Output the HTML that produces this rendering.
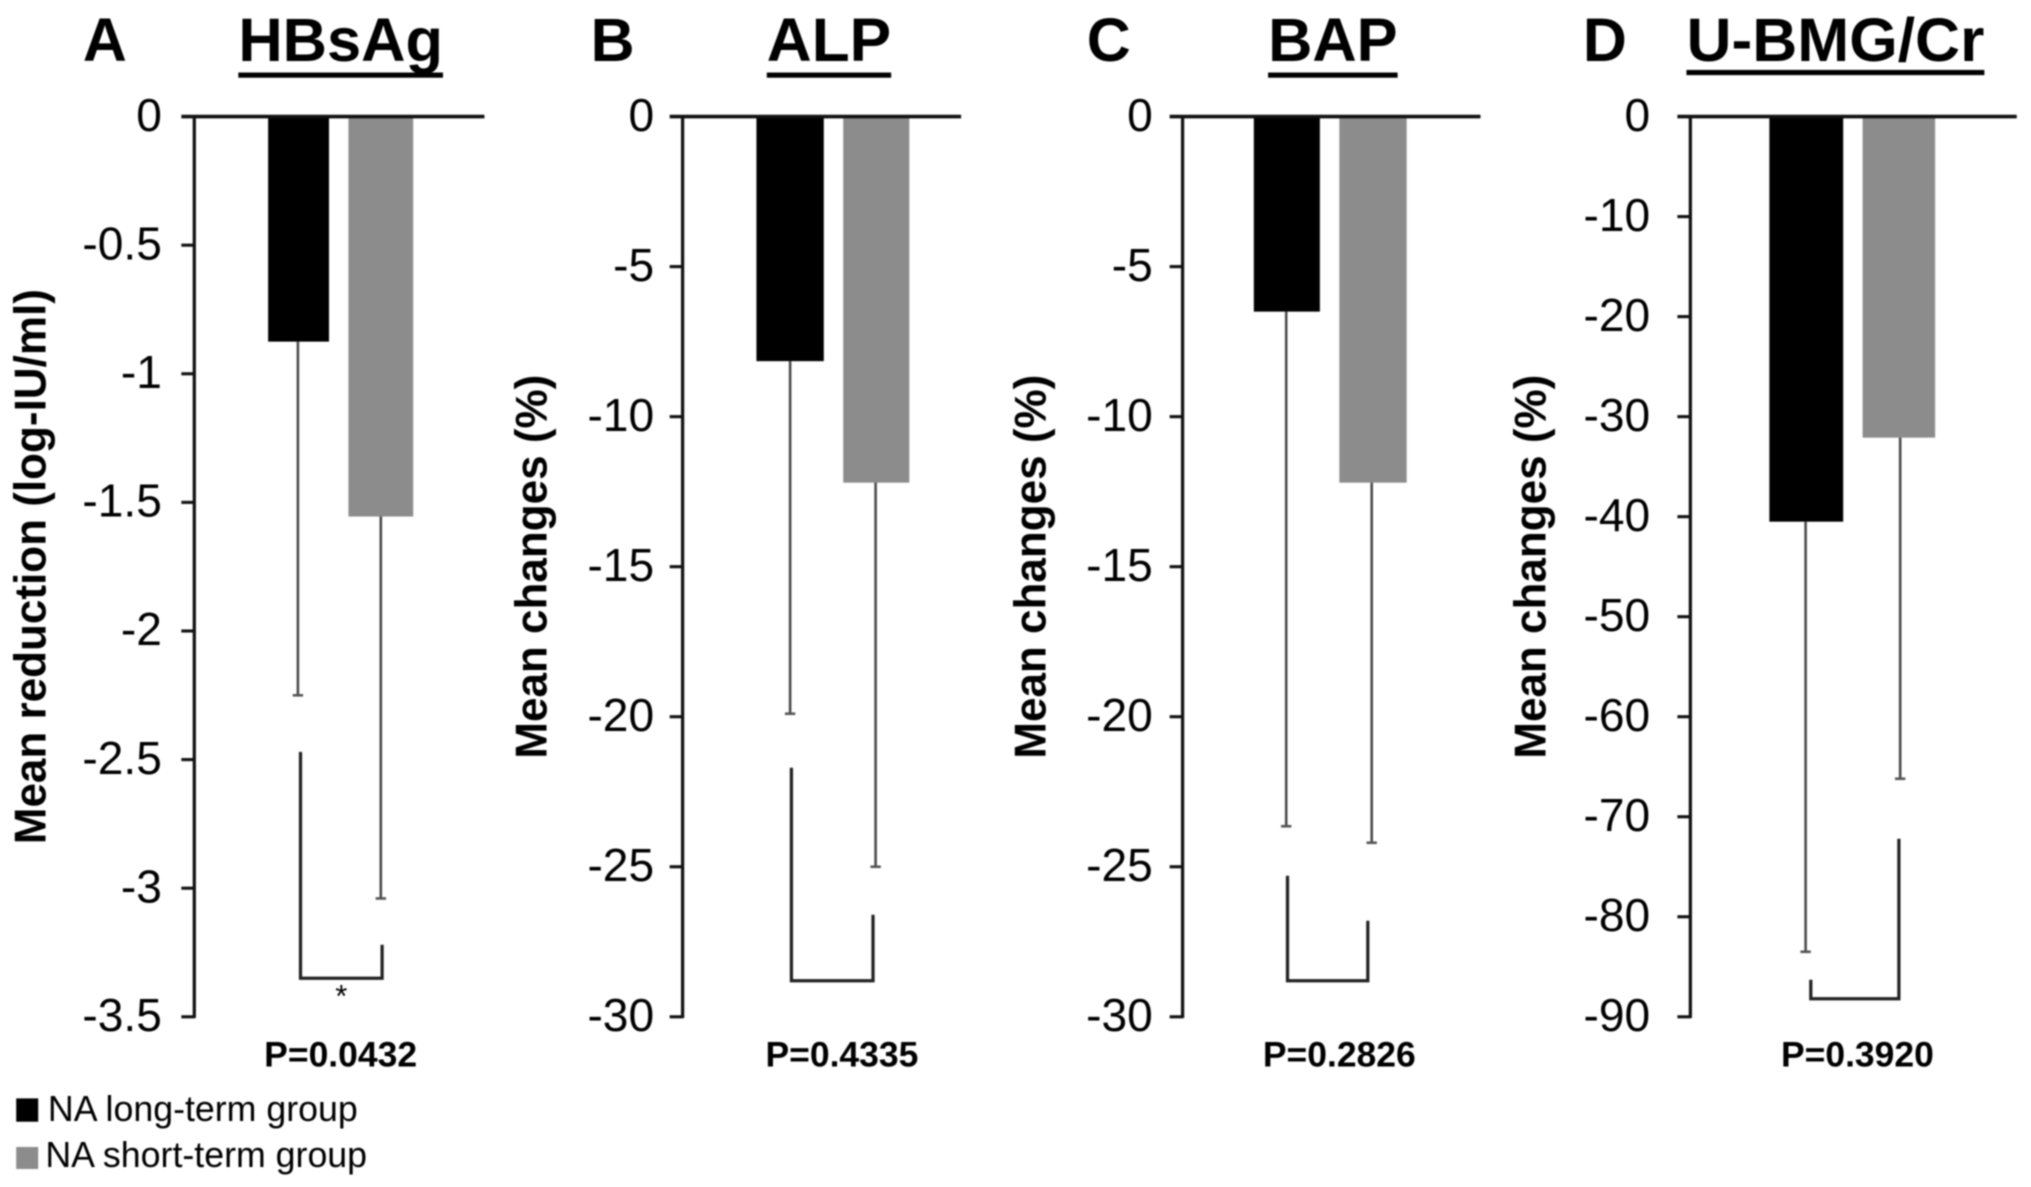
<!DOCTYPE html>
<html>
<head>
<meta charset="utf-8">
<style>
html,body{margin:0;padding:0;background:#fff;width:2031px;height:1187px;overflow:hidden}
svg{display:block;filter:blur(0.8px)}
text{font-family:"Liberation Sans",Arial,sans-serif;fill:#000}
</style>
</head>
<body>
<svg id="chart" xmlns="http://www.w3.org/2000/svg" width="2031" height="1187" viewBox="0 0 1568 916.4" preserveAspectRatio="none"></svg>
<script>
// ---- Data ----
const panelLetters = ['A', 'B', 'C', 'D'];
const panelTitles = ['HBsAg', 'ALP', 'BAP', 'U-BMG/Cr'];
const axisTitles = ['Mean reduction (log-IU/ml)', 'Mean changes (%)', 'Mean changes (%)', 'Mean changes (%)'];
const seriesNames = ['NA long-term group', 'NA short-term group'];
const pValues = ['P=0.0432', 'P=0.4335', 'P=0.2826', 'P=0.3920'];

const ticksA = [0, -0.5, -1, -1.5, -2, -2.5, -3, -3.5];
const ticksB = [0, -5, -10, -15, -20, -25, -30];
const ticksC = [0, -5, -10, -15, -20, -25, -30];
const ticksD = [0, -10, -20, -30, -40, -50, -60, -70, -80, -90];

const longTermMeans = [-0.875, -8.15, -6.5, -40.5];
const shortTermMeans = [-1.555, -12.2, -12.2, -32.1];
const longTermErrorEnds = [-2.25, -19.9, -23.65, -83.5];
const shortTermErrorEnds = [-3.04, -25, -24.2, -66.2];

// significance bracket: level of the crossbar and where each arm starts, in axis units
const bracketLevels = [-3.35, -28.8, -28.8, -88.2];
const bracketLeftStarts = [-2.47, -21.7, -25.3, -86.3];
const bracketRightStarts = [-3.22, -26.6, -26.8, -72.2];
const significanceMarks = ['*', '', '', ''];

// ---- Layout ----
const plotTop = 90, plotBottom = 785;
const layout = [
  {axis:150, right:374, black:[207,254], grey:[269,319], errBlack:230, errGrey:294, brL:232, brR:295, pCx:263, titleCx:263, ulL:184, ulR:342, ulY:58, letterX:64, yLabelX:35, labelEnd:125},
  {axis:527, right:742, black:[584,636], grey:[651,702], errBlack:610, errGrey:676, brL:611, brR:674, pCx:650, titleCx:640, ulL:592, ulR:688, ulY:58, letterX:456, yLabelX:422, labelEnd:505},
  {axis:913, right:1143, black:[968,1019], grey:[1034,1086], errBlack:993, errGrey:1059, brL:994, brR:1056, pCx:1034, titleCx:1029, ulL:979, ulR:1079, ulY:58, letterX:839, yLabelX:807, labelEnd:890},
  {axis:1305, right:1557, black:[1366,1423], grey:[1438,1494], errBlack:1394, errGrey:1467, brL:1398, brR:1466, pCx:1434, titleCx:1417, ulL:1302, ulR:1532, ulY:56, letterX:1222, yLabelX:1193, labelEnd:1274}
];
const tickSets = [ticksA, ticksB, ticksC, ticksD];

const svg = document.getElementById('chart');
const NS = 'http://www.w3.org/2000/svg';

function shape(tag, geom, parent) {
  const el = document.createElementNS(NS, tag);
  for (const k in geom) el.setAttribute(k, geom[k]);
  (parent || svg).appendChild(el);
  return el;
}
function yScale(ticks) {
  const min = ticks[ticks.length - 1], max = ticks[0];
  return v => plotTop + (max - v) / (max - min) * (plotBottom - plotTop);
}
function lineEl(x1, y1, x2, y2, stroke, width, parent) {
  return shape('line', {x1:x1, y1:y1, x2:x2, y2:y2, stroke:stroke, 'stroke-width':width}, parent);
}

panelTitles.forEach((title, i) => {
  const L = layout[i];
  const ticks = tickSets[i];
  const y = yScale(ticks);

  const g = shape('g', {});
  
  

  const letter = shape('text', {x:L.letterX, y:47, 'font-size':47, 'font-weight':'bold'}, g);
  letter.textContent = panelLetters[i];
  
  

  const titleEl = shape('text', {x:L.titleCx, y:47, 'font-size':47, 'font-weight':'bold', 'text-anchor':'middle', textLength:L.ulR - L.ulL, lengthAdjust:'spacingAndGlyphs'}, g);
  titleEl.textContent = title;
  
  

  const underline = shape('rect', {x:L.ulL, y:L.ulY - 2, width:L.ulR - L.ulL, height:4, fill:'#000'}, g);
  
  

  const yTitle = shape('text', {x:L.yLabelX, y:437.5, 'font-size':34, 'font-weight':'bold', 'text-anchor':'middle', transform:'rotate(-90 ' + L.yLabelX + ' 437.5)'}, g);
  yTitle.textContent = axisTitles[i];
  
  

  // bars
  const barBlack = shape('rect', {x:L.black[0], y:y(0), width:L.black[1] - L.black[0], height:y(longTermMeans[i]) - y(0), fill:'#000'}, g);
  
  

  const barGrey = shape('rect', {x:L.grey[0], y:y(0), width:L.grey[1] - L.grey[0], height:y(shortTermMeans[i]) - y(0), fill:'#8c8c8c'}, g);
  
  

  // error bars
  const errBlack = lineEl(L.errBlack, y(longTermMeans[i]), L.errBlack, y(longTermErrorEnds[i]), '#4a4a4a', 2, g);
  
  

  const capBlack = lineEl(L.errBlack - 4, y(longTermErrorEnds[i]), L.errBlack + 4, y(longTermErrorEnds[i]), '#555', 2, g);
  
  

  const errGrey = lineEl(L.errGrey, y(shortTermMeans[i]), L.errGrey, y(shortTermErrorEnds[i]), '#4a4a4a', 2, g);
  
  

  const capGrey = lineEl(L.errGrey - 4, y(shortTermErrorEnds[i]), L.errGrey + 4, y(shortTermErrorEnds[i]), '#555', 2, g);
  
  

  // axes
  const yAxis = lineEl(L.axis, y(0), L.axis, plotBottom + 1, '#111', 2.5, g);
  
  

  const xAxis = lineEl(L.axis - 10, y(0), L.right, y(0), '#111', 2.8, g);
  
  

  ticks.forEach(t => {
    if (t !== 0) {
      const tm = lineEl(L.axis - 10, y(t), L.axis, y(t), '#111', 2.4, g);
      
      
    }
    const tl = shape('text', {x:L.labelEnd, y:y(t) + 11, 'font-size':35.6, 'text-anchor':'end'}, g);
    tl.textContent = String(t);
    
    
  });

  // significance bracket
  const level = y(bracketLevels[i]);
  const pts = L.brL + ',' + y(bracketLeftStarts[i]) + ' ' + L.brL + ',' + level + ' ' + L.brR + ',' + level + ' ' + L.brR + ',' + y(bracketRightStarts[i]);
  const bracket = shape('polyline', {points:pts, fill:'none', stroke:'#222', 'stroke-width':2.5}, g);
  
  

  if (significanceMarks[i]) {
    const star = shape('text', {x:(L.brL + L.brR) / 2, y:level + 22, 'font-size':24, 'text-anchor':'middle', fill:'#333'}, g);
    star.textContent = significanceMarks[i];
    
    
  }

  const p = shape('text', {x:L.pCx, y:823.5, 'font-size':27.4, 'font-weight':'bold', 'text-anchor':'middle', fill:'#111'}, g);
  p.textContent = pValues[i];
  
  
});

// legend
const legendG = shape('g', {});



const swatchBlack = shape('rect', {x:12.5, y:848, width:17, height:18, fill:'#000'}, legendG);



const legendBlack = shape('text', {x:37, y:865.5, 'font-size':27.6, fill:'#222'}, legendG);
legendBlack.textContent = seriesNames[0];



const swatchGrey = shape('rect', {x:12.5, y:885.5, width:17, height:17, fill:'#8c8c8c'}, legendG);



const legendGrey = shape('text', {x:35, y:901, 'font-size':27.6, fill:'#222'}, legendG);
legendGrey.textContent = seriesNames[1];


</script>
</body>
</html>
